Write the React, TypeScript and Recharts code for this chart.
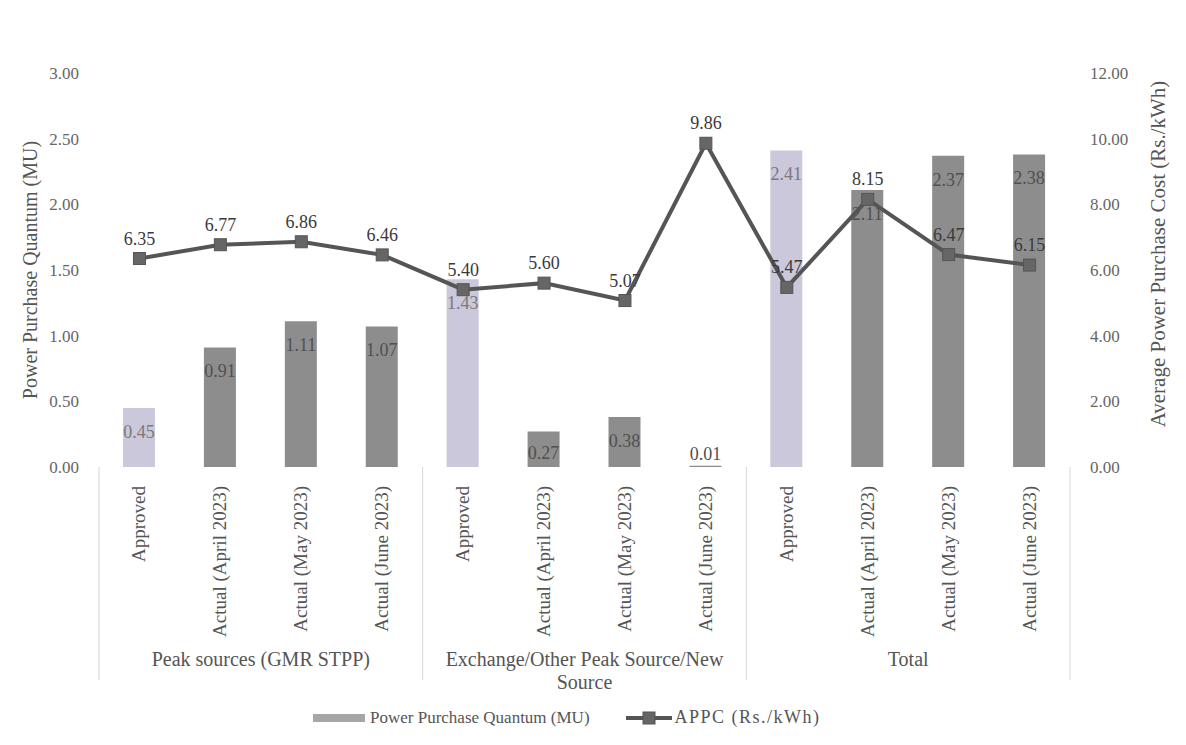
import React from "react";
import {
  ComposedChart,
  Bar,
  Line,
  XAxis,
  YAxis,
  Cell,
  LabelList,
} from "recharts";

// categories (repeat for each source group)
const categories = [
  "Approved",
  "Actual (April 2023)",
  "Actual (May 2023)",
  "Actual (June 2023)",
  "Approved",
  "Actual (April 2023)",
  "Actual (May 2023)",
  "Actual (June 2023)",
  "Approved",
  "Actual (April 2023)",
  "Actual (May 2023)",
  "Actual (June 2023)",
];

const groupLabels = [
  ["Peak sources (GMR STPP)"],
  ["Exchange/Other Peak Source/New", "Source"],
  ["Total"],
];

// Power Purchase Quantum (MU)
const quantumMU = [0.45, 0.91, 1.11, 1.07, 1.43, 0.27, 0.38, 0.01, 2.41, 2.11, 2.37, 2.38];
// APPC (Rs./kWh)
const appc = [6.35, 6.77, 6.86, 6.46, 5.4, 5.6, 5.07, 9.86, 5.47, 8.15, 6.47, 6.15];

const leftTicks = [0, 0.5, 1, 1.5, 2, 2.5, 3];
const rightTicks = [0, 2, 4, 6, 8, 10, 12];

const W = 1186;
const H = 745;
const PLOT_LEFT = 99;
const PLOT_RIGHT = 1070;
const PLOT_TOP = 73;
const PLOT_BOTTOM = 467;
const BAND = (PLOT_RIGHT - PLOT_LEFT) / categories.length;
const FONT = "'Liberation Serif', 'Times New Roman', serif";

const APPROVED = "#cac8da";
const ACTUAL = "#8d8d8d";

const data = categories.map((c, i) => ({
  key: i,
  name: c,
  mu: quantumMU[i],
  appc: appc[i],
}));

function CategoryTick(props: any) {
  const { x, payload, index } = props;
  const i = payload ? payload.value : index;
  const top = PLOT_BOTTOM + 19;
  const left = x - BAND / 2;
  return (
    <g>
      <text
        transform={`translate(${x + 6},${top}) rotate(-90)`}
        textAnchor="end"
        fontFamily={FONT}
        fontSize={19}
        fill="#555"
      >
        {categories[i]}
      </text>
      {i % 4 === 0 && (
        <line x1={left} x2={left} y1={PLOT_BOTTOM} y2={680} stroke="#d6d6d6" />
      )}
      {i === categories.length - 1 && (
        <line x1={x + BAND / 2} x2={x + BAND / 2} y1={PLOT_BOTTOM} y2={680} stroke="#d6d6d6" />
      )}
      {i % 4 === 1 && (
        <text
          x={x + BAND / 2}
          y={666}
          textAnchor="middle"
          fontFamily={FONT}
          fontSize={20}
          fill="#555"
        >
          {groupLabels[Math.floor(i / 4)].map((l, k) => (
            <tspan key={k} x={x + BAND / 2} dy={k === 0 ? 0 : 23}>
              {l}
            </tspan>
          ))}
        </text>
      )}
    </g>
  );
}

function BarValue(props: any) {
  const { x, y, width, height, value, index } = props;
  let cy = y + 24;
  if (height < 15) cy = y - 12;
  else if (cy > y + height - 14) cy = y + height - 14;
  return (
    <text
      x={x + width / 2}
      y={cy}
      dy={6}
      textAnchor="middle"
      fontFamily={FONT}
      fontSize={18}
      fill={index % 4 === 0 ? "#7a7a7a" : "#505050"}
    >
      {Number(value).toFixed(2)}
    </text>
  );
}

function SquareDot(props: any) {
  const { cx, cy } = props;
  if (cx == null || cy == null) return null;
  return <rect x={cx - 6} y={cy - 6} width={12} height={12} fill="#666" stroke="#555" strokeWidth={1} />;
}

function AxisTitle({ viewBox, text, cx, cy, size }: any) {
  const y = cy != null ? cy : viewBox ? viewBox.y + viewBox.height / 2 : 270;
  return (
    <text
      transform={`translate(${cx},${y}) rotate(-90)`}
      textAnchor="middle"
      dominantBaseline="central"
      fontFamily={FONT}
      fontSize={size}
      fill="#555"
    >
      {text}
    </text>
  );
}

export default function App() {
  const tickStyle = { fontFamily: FONT, fontSize: 17, fill: "#666" };
  return (
    <div style={{ position: "absolute", left: 0, top: 0, width: W, height: H, background: "#fff" }}>
      <ComposedChart
        width={W}
        height={H}
        data={data}
        margin={{ top: PLOT_TOP, right: 0, bottom: H - PLOT_BOTTOM - 200, left: 0 }}
        barCategoryGap="60%"
      >
        <XAxis
          dataKey="key"
          height={200}
          interval={0}
          tickLine={false}
          axisLine={false}
          tick={<CategoryTick />}
        />
        <YAxis
          yAxisId="left"
          orientation="left"
          width={PLOT_LEFT}
          domain={[0, 3]}
          ticks={leftTicks}
          tickFormatter={(v: number) => v.toFixed(2)}
          tickLine={false}
          axisLine={false}
          tickSize={0}
          tickMargin={20}
          tick={tickStyle}
          label={{
            content: (p: any) => <AxisTitle {...p} cx={30} size={20} text="Power Purchase Quantum (MU)" />,
          }}
        />
        <YAxis
          yAxisId="right"
          orientation="right"
          width={W - PLOT_RIGHT}
          domain={[0, 12]}
          ticks={rightTicks}
          tickFormatter={(v: number) => v.toFixed(2)}
          tickLine={false}
          axisLine={false}
          tickSize={0}
          tickMargin={20}
          tick={tickStyle}
          label={{
            content: (p: any) => (
              <AxisTitle {...p} cx={1158} cy={254} size={21} text="Average Power Purchase Cost (Rs./kWh)" />
            ),
          }}
        />
        <Bar yAxisId="left" dataKey="mu" barSize={32} isAnimationActive={false}>
          {data.map((d, i) => (
            <Cell key={i} fill={i % 4 === 0 ? APPROVED : ACTUAL} />
          ))}
          <LabelList dataKey="mu" content={<BarValue />} />
        </Bar>
        <Line
          yAxisId="right"
          dataKey="appc"
          stroke="#555"
          strokeWidth={4}
          dot={<SquareDot />}
          activeDot={false}
          isAnimationActive={false}
        >
          <LabelList
            dataKey="appc"
            position="top"
            offset={14}
            formatter={(v: any) => Number(v).toFixed(2)}
            style={{ fontFamily: FONT, fontSize: 18, fill: "#3a3a3a" }}
          />
        </Line>
      </ComposedChart>
      <div
        style={{
          position: "absolute",
          left: 313,
          top: 707,
          display: "flex",
          alignItems: "center",
          fontFamily: FONT,
          fontSize: 17,
          color: "#555",
          whiteSpace: "nowrap",
        }}
      >
        <span style={{ display: "inline-block", width: 52, height: 8, background: "#a6a6a6", marginRight: 5 }} />
        <span>Power Purchase Quantum (MU)</span>
        <svg width={46} height={14} style={{ marginLeft: 36, marginRight: 3 }}>
          <line x1={0} x2={46} y1={7} y2={7} stroke="#555" strokeWidth={4} />
          <rect x={17} y={1} width={12} height={12} fill="#666" stroke="#555" />
        </svg>
        <span style={{ fontSize: 18, letterSpacing: 1.5 }}>APPC (Rs./kWh)</span>
      </div>
    </div>
  );
}
